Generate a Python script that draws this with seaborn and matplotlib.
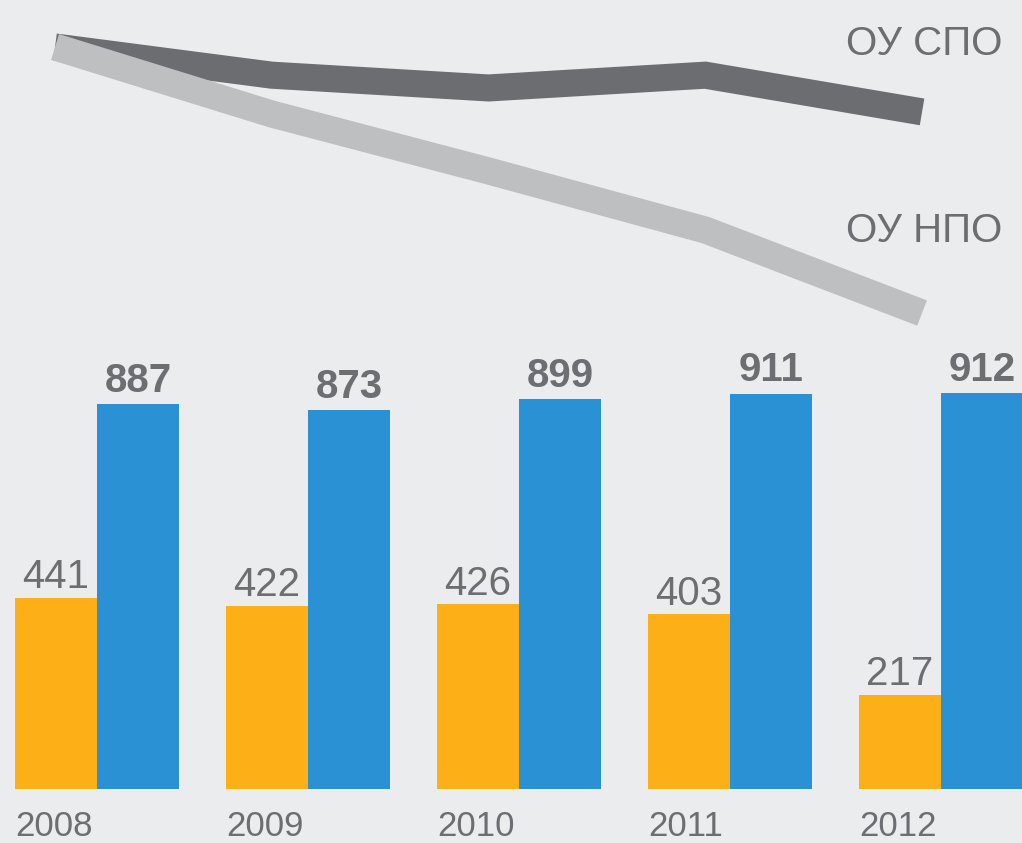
import numpy as np
import pandas as pd
import matplotlib
matplotlib.use("Agg")
import matplotlib.pyplot as plt
import matplotlib.transforms as mtransforms
import seaborn as sns

# data
years = ["2008", "2009", "2010", "2011", "2012"]
npo_counts = [441, 422, 426, 403, 217]
spo_counts = [887, 873, 899, 911, 912]
# line index (2008 = 100)
line_years = [2008, 2009, 2010, 2011, 2012]
spo_index = [100, 94.7, 92.3, 94.7, 87.8]
npo_index = [100, 87.4, 76.7, 65.6, 50.0]

bg = "#EBECEE"
orange = "#FCAF17"
blue = "#2B91D5"
dark = "#6C6D71"
light = "#BEBFC1"
text_col = "#6D6E72"
thin = ["Liberation Sans", "DejaVu Sans"]

sns.set_style("white")

df = pd.DataFrame({
    "year": years * 2,
    "value": npo_counts + spo_counts,
    "type": ["НПО"] * len(years) + ["СПО"] * len(years),
})

fig = plt.figure(figsize=(10.22, 8.43), dpi=100)
fig.patch.set_facecolor(bg)
ax = fig.add_axes([0, 0, 1, 1])
ax.set_facecolor(bg)

bar_w = 0.778
sns.barplot(data=df, x="year", y="value", hue="type", palette=[orange, blue],
            width=bar_w, gap=0, saturation=1, legend=False, linewidth=0, ax=ax)
ax.set_xlim(-0.46, 4.384)
ax.set_ylim(-124.4, 1818)
ax.axis("off")

ax.bar_label(ax.containers[0], labels=[str(v) for v in npo_counts], padding=1,
             fontsize=29, color=text_col, family=thin)
ax.bar_label(ax.containers[1], labels=[str(v) for v in spo_counts], padding=3,
             fontsize=29, fontweight="bold", color=text_col, family=thin)

# year labels under the bars, left aligned with the orange bar
trans = mtransforms.blended_transform_factory(ax.transData, ax.transAxes)
for i, y in enumerate(years):
    ax.text(i - bar_w / 2, 0.008, y, transform=trans, ha="left", va="baseline",
            fontsize=25, color=text_col, family=thin)

# lines on an overlay axes
ax2 = fig.add_axes([0, 0, 1, 1])
ax2.patch.set_alpha(0)
sns.lineplot(x=line_years, y=spo_index, color=dark, linewidth=19.5,
             solid_capstyle="butt", solid_joinstyle="miter", ax=ax2)
sns.lineplot(x=line_years, y=npo_index, color=light, linewidth=19.5,
             solid_capstyle="butt", solid_joinstyle="miter", ax=ax2)
ax2.set_xlim(2007.746, 2012.461)
ax2.set_ylim(-49.6, 108.83)
ax2.axis("off")

ax2.text(0.828, 0.9348, "ОУ СПО", transform=ax2.transAxes, ha="left",
         va="baseline", fontsize=29, color=text_col, family=thin)
ax2.text(0.828, 0.713, "ОУ НПО", transform=ax2.transAxes, ha="left",
         va="baseline", fontsize=29, color=text_col, family=thin)

fig.savefig("out.png", dpi=100, facecolor=bg)
